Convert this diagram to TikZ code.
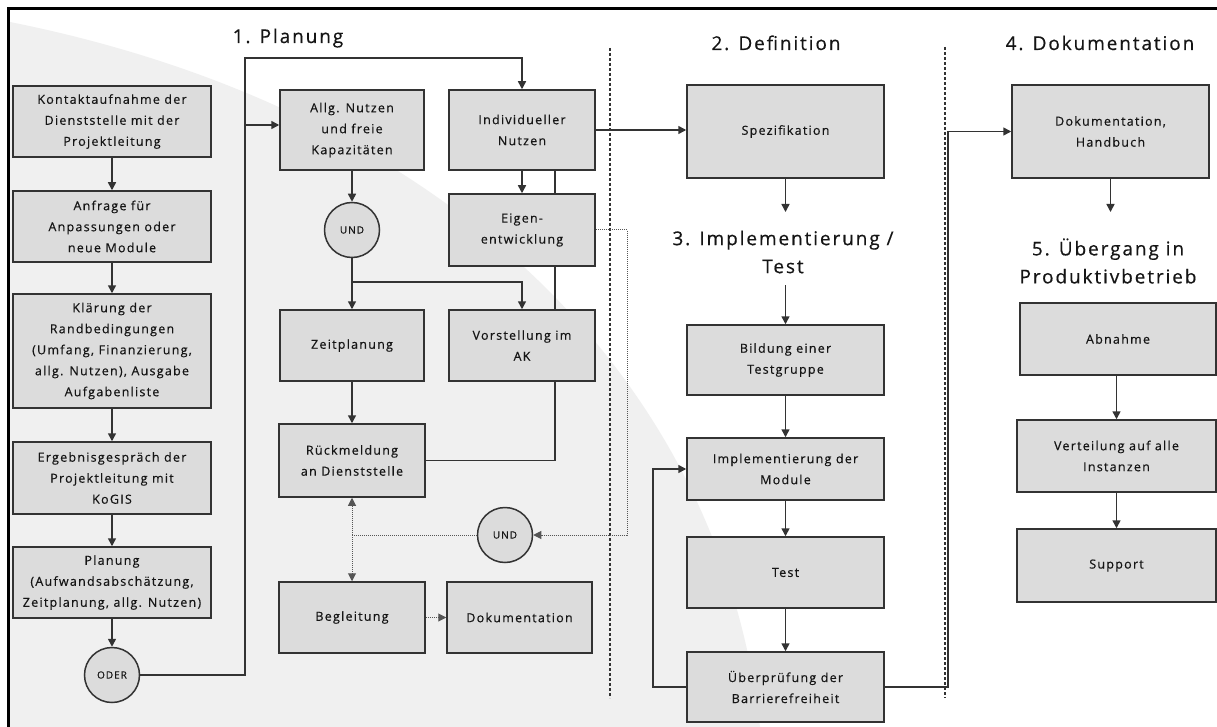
\documentclass[tikz,border=0pt]{standalone}
\usepackage{fontspec}
\usetikzlibrary{arrows.meta}
\newfontfamily\boxfont[LetterSpace=10,FakeBold=0.4]{Open Sans}
\definecolor{boxfill}{HTML}{DCDCDC}
\definecolor{edge}{HTML}{333333}
\definecolor{txt}{HTML}{151515}
\definecolor{dotc}{HTML}{555555}
\definecolor{bggray}{HTML}{F0F0F0}
\begin{document}
\begin{tikzpicture}[x=1pt,y=-1pt,
  box/.style={draw=edge, fill=boxfill, line width=1.5pt, inner sep=0pt, align=center,
    font=\boxfont\fontsize{12.5}{21}\selectfont, text=txt},
  gate/.style={circle, draw=edge, fill=boxfill, line width=1.5pt, minimum size=55pt, inner sep=0pt,
    font=\boxfont\fontsize{10}{10}\selectfont, text=txt},
  arr/.style={draw=edge, line width=1.5pt, -{Triangle[length=8pt,width=8pt]}},
  ln/.style={draw=edge, line width=1.5pt},
  dotarr/.style={draw=dotc, line width=1pt, dash pattern=on 1pt off 1pt, -{Triangle[length=8pt,width=8pt]}},
  dotln/.style={draw=dotc, line width=1pt, dash pattern=on 1pt off 1pt},
  divider/.style={draw=edge, line width=1.2pt, dash pattern=on 3pt off 2pt},
  title/.style={font=\boxfont\fontsize{19}{28}\selectfont, text=txt, align=center, inner sep=0pt}]

\useasboundingbox (0,0) rectangle (1217,727);
\fill[white] (0,0) rectangle (1217,727);
\fill[bggray] (10,22) .. controls (450,110) and (720,380) .. (760,727) -- (10,727) -- cycle;
\draw[line width=3pt, black] (8.5,730) -- (8.5,8.5) -- (1220,8.5);

% dividers
\draw[divider] (610,48) -- (610,698);
\draw[divider] (945,47) -- (945,698);

% titles
\node[title, anchor=base] (t1) at (288,43) {1. Planung};
\node[title, anchor=base] (t2) at (776,50) {2. Definition};
\node[title] (t3) at (783,252) {3. Implementierung /\\Test};
\node[title, anchor=base] (t4) at (1100,50) {4. Dokumentation};
\node[title] (t5) at (1108,261) {5. Übergang in\\Produktivbetrieb};

% left column
\node[box, minimum width=198pt, minimum height=71pt] (b1) at (112,121.5) {Kontaktaufnahme der\\Dienststelle mit der\\Projektleitung};
\node[box, minimum width=198pt, minimum height=71pt] (b2) at (112,226.5) {Anfrage für\\Anpassungen oder\\neue Module};
\node[box, minimum width=198pt, minimum height=114pt] (b3) at (112,351) {Klärung der\\Randbedingungen\\(Umfang, Finanzierung,\\allg. Nutzen), Ausgabe\\Aufgabenliste};
\node[box, minimum width=198pt, minimum height=72pt] (b4) at (112,478) {Ergebnisgespräch der\\Projektleitung mit\\KoGIS};
\node[box, minimum width=198pt, minimum height=71pt] (b5) at (112,582.5) {Planung\\(Aufwandsabschätzung,\\Zeitplanung, allg. Nutzen)};
\node[gate] (oder) at (112,675) {ODER};

% planning middle
\node[box, minimum width=144pt, minimum height=80pt] (allg) at (352,130) {Allg. Nutzen\\und freie\\Kapazitäten};
\node[box, minimum width=146pt, minimum height=80pt] (indiv) at (522,130) {Individueller\\Nutzen};
\node[box, minimum width=146pt, minimum height=72pt] (eigen) at (522,230) {Eigen-\\entwicklung};
\node[gate] (und1) at (352,230) {UND};
\node[box, minimum width=144pt, minimum height=71pt] (zeit) at (352,345.5) {Zeitplanung};
\node[box, minimum width=146pt, minimum height=71pt] (vorst) at (522,345.5) {Vorstellung im\\AK};
\node[box, minimum width=146pt, minimum height=73pt] (rueck) at (352,460.5) {Rückmeldung\\an Dienststelle};
\node[gate] (und2) at (505,535) {UND};
\node[box, minimum width=146pt, minimum height=71pt] (begl) at (352,617.5) {Begleitung};
\node[box, minimum width=145pt, minimum height=71pt] (doku) at (519.5,617.5) {Dokumentation};

% definition / implementation
\node[box, minimum width=197pt, minimum height=93pt] (spez) at (785.5,131.5) {Spezifikation};
\node[box, minimum width=197pt, minimum height=70pt] (bild) at (785.5,360) {Bildung einer\\Testgruppe};
\node[box, minimum width=197pt, minimum height=62pt] (impl) at (785.5,469) {Implementierung der\\Module};
\node[box, minimum width=197pt, minimum height=71pt] (test) at (785.5,572.5) {Test};
\node[box, minimum width=197pt, minimum height=70pt] (ueber) at (785.5,687) {Überprüfung der\\Barrierefreiheit};

% documentation / production
\node[box, minimum width=197pt, minimum height=93pt] (dok) at (1110.5,131.5) {Dokumentation,\\Handbuch};
\node[box, minimum width=196pt, minimum height=72pt] (abn) at (1118,339) {Abnahme};
\node[box, minimum width=199pt, minimum height=72pt] (vert) at (1116.5,456) {Verteilung auf alle\\Instanzen};
\node[box, minimum width=199pt, minimum height=73pt] (supp) at (1116.5,565.5) {Support};

% coordinates
\coordinate (c1) at (245,675);
\coordinate (c2) at (245,58);
\coordinate (c3) at (522,58);
\coordinate (c4) at (245,125);
\coordinate (c5) at (352,282);
\coordinate (c6) at (555,460.5);
\coordinate (d1) at (627,230);
\coordinate (d2) at (627,535);
\coordinate (d3) at (352,535);
\coordinate (s1) at (785.5,212);
\coordinate (s2) at (785.5,285);
\coordinate (f1) at (653,580);
\coordinate (g1) at (948,400);
\coordinate (h1) at (1110.5,212);

% left column connectors
\draw[arr] (b1) -- (b2);
\draw[arr] (b2) -- (b3);
\draw[arr] (b3) -- (b4);
\draw[arr] (b4) -- (b5);
\draw[arr] (b5) -- (oder);
\draw[arr] (oder.east) -- (c1) -- (c2) -- (c3) -- (indiv.north);
\draw[arr] (c4) -- (allg.west |- c4);

% planning connectors
\draw[arr] (allg) -- (und1);
\draw[arr] (und1) -- (zeit);
\draw[arr] (c5) -| (vorst.north);
\draw[arr] (indiv) -- (eigen);
\draw[ln] (c6 |- indiv.south) -- (c6 |- eigen.north);
\draw[ln] (c6 |- eigen.south) -- (c6 |- vorst.north);
\draw[ln] (c6 |- vorst.south) -- (c6) -- (rueck.east);
\draw[arr] (zeit) -- (rueck);
\draw[dotarr] (eigen.east) -- (d1) -- (d2) -- (und2.east);
\draw[dotln] (und2.west) -- (d3);
\draw[dotarr] (d3) -- (rueck.south);
\draw[dotarr] (d3) -- (begl.north);
\draw[dotarr] (begl) -- (doku);

% definition / implementation connectors
\draw[arr] (indiv.east) -- (spez.west |- indiv.east);
\draw[arr] (spez.south) -- (s1);
\draw[arr] (s2) -- (bild.north);
\draw[arr] (bild) -- (impl);
\draw[arr] (impl) -- (test);
\draw[arr] (test) -- (ueber);
\draw[arr] (ueber.west) -| (f1) |- (impl.west);
\draw[arr] (ueber.east) -| (g1) |- (dok.west);
\draw[arr] (dok.south) -- (h1);
\draw[arr] (abn.south -| vert.north) -- (vert.north);
\draw[arr] (vert) -- (supp);
\end{tikzpicture}
\end{document}
